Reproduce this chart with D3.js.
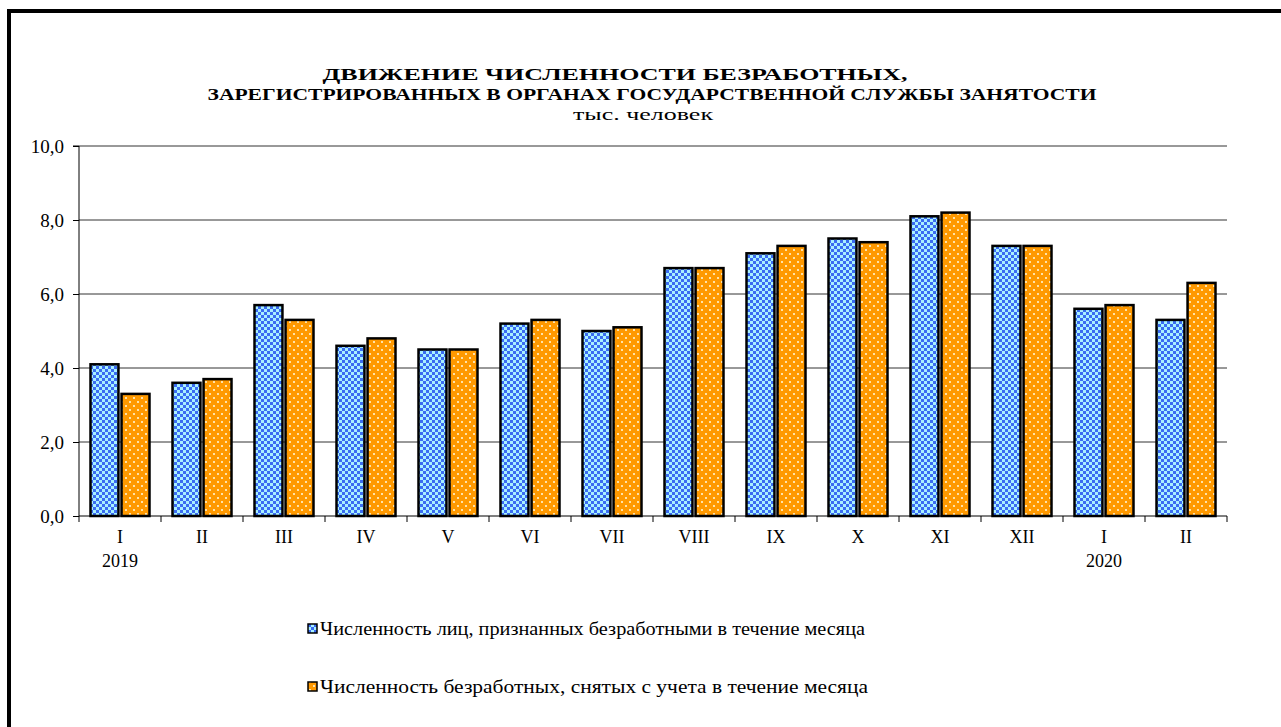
<!DOCTYPE html>
<html>
<head>
<meta charset="utf-8">
<script src="https://cdnjs.cloudflare.com/ajax/libs/d3/7.8.5/d3.min.js"></script>
<style>
  body { margin: 0; background: #fff; }
  svg text { font-family: "Liberation Serif", "DejaVu Serif", "Noto Serif", serif !important; }
</style>
</head>
<body>
<svg id="chart" width="1281" height="727"></svg>
<script>
var months = ["I", "II", "III", "IV", "V", "VI", "VII", "VIII", "IX", "X", "XI", "XII", "I", "II"]
var years = ["2019", "", "", "", "", "", "", "", "", "", "", "", "2020", ""]
var recognised = [4.1, 3.6, 5.7, 4.6, 4.5, 5.2, 5.0, 6.7, 7.1, 7.5, 8.1, 7.3, 5.6, 5.3]
var removed = [3.3, 3.7, 5.3, 4.8, 4.5, 5.3, 5.1, 6.7, 7.3, 7.4, 8.2, 7.3, 5.7, 6.3]
var yTicks = [0, 2, 4, 6, 8, 10]
var seriesNames = ["Численность лиц, признанных безработными в течение месяца",
                   "Численность безработных, снятых с учета в течение месяца"]

var dimensions = {
    width: 1281,
    height: 727,
    margin: { top: 146, bottom: 211, left: 79, right: 54 }
}

var svg = d3.select("#chart")

// patterns
var defs = svg.append("defs")
var pBlue = defs.append("pattern")
    .attr("id", "pBlue").attr("patternUnits", "userSpaceOnUse")
    .attr("width", 6).attr("height", 6)
pBlue.append("rect").attr("width", 6).attr("height", 6).attr("fill", "#a8f0ff")
pBlue.append("rect").attr("width", 3).attr("height", 3).attr("fill", "#3a6cf2")
pBlue.append("rect").attr("x", 3).attr("y", 3).attr("width", 3).attr("height", 3).attr("fill", "#3a6cf2")

var pOrange = defs.append("pattern")
    .attr("id", "pOrange").attr("patternUnits", "userSpaceOnUse")
    .attr("width", 8).attr("height", 8)
pOrange.append("rect").attr("width", 8).attr("height", 8).attr("fill", "#ff9900")
pOrange.append("rect").attr("x", 1).attr("y", 1).attr("width", 2).attr("height", 2).attr("fill", "#ffe2a8")
pOrange.append("rect").attr("x", 5).attr("y", 5).attr("width", 2).attr("height", 2).attr("fill", "#ffe2a8")

var fills = ["url(#pBlue)", "url(#pOrange)"]

// outer frame
svg.append("rect")
    .attr("x", 9).attr("y", 11)
    .attr("width", 1400).attr("height", 900)
    .attr("fill", "none").attr("stroke", "black").attr("stroke-width", 4)

// title (cyrillic falls back to a sans face, so stretch to the original widths)
svg.append("text").attr("x", 615).attr("y", 80).attr("text-anchor", "middle")
    .style("font-size", "16px").style("font-weight", "bold")
    .attr("textLength", 585).attr("lengthAdjust", "spacingAndGlyphs")
    .text("ДВИЖЕНИЕ ЧИСЛЕННОСТИ БЕЗРАБОТНЫХ,")
svg.append("text").attr("x", 652).attr("y", 100).attr("text-anchor", "middle")
    .style("font-size", "16px").style("font-weight", "bold")
    .attr("textLength", 889).attr("lengthAdjust", "spacingAndGlyphs")
    .text("ЗАРЕГИСТРИРОВАННЫХ В ОРГАНАХ ГОСУДАРСТВЕННОЙ СЛУЖБЫ ЗАНЯТОСТИ")
svg.append("text").attr("x", 643).attr("y", 120).attr("text-anchor", "middle")
    .style("font-size", "17px")
    .attr("textLength", 140).attr("lengthAdjust", "spacingAndGlyphs")
    .text("тыс. человек")

var xScale = d3.scaleBand()
    .domain(d3.range(months.length))
    .range([dimensions.margin.left, dimensions.width - dimensions.margin.right])

var subScale = d3.scaleBand()
    .domain([0, 1])
    .range([11.5, xScale.bandwidth() - 11.5])
    .paddingInner(0.1)

var yScale = d3.scaleLinear()
    .domain([0, 10])
    .range([dimensions.height - dimensions.margin.bottom, dimensions.margin.top])

// gridlines
svg.append("g")
    .selectAll("line")
    .data(yTicks.filter(d => d > 0))
    .enter()
    .append("line")
    .attr("x1", dimensions.margin.left)
    .attr("x2", dimensions.width - dimensions.margin.right)
    .attr("y1", d => yScale(d))
    .attr("y2", d => yScale(d))
    .attr("stroke", "#333")
    .attr("stroke-width", 1)

// y axis
var yAxisGen = d3.axisLeft(yScale)
    .tickValues(yTicks)
    .tickSize(6)
    .tickFormat(d => d3.format(".1f")(d).replace(".", ","))

var yAxis = svg.append("g")
    .attr("transform", `translate(${dimensions.margin.left}, 0)`)
    .call(yAxisGen)
yAxis.select(".domain").attr("d", `M-6,${yScale(10)}H0V${yScale(0)}`)
yAxis.selectAll("text").style("font-size", "19px").attr("x", -15).attr("fill", "black")

// bars
var series = [recognised, removed]
series.forEach((vals, s) => {
    svg.append("g")
        .selectAll("rect")
        .data(vals)
        .enter()
        .append("rect")
        .attr("x", (d, i) => xScale(i) + subScale(s))
        .attr("y", d => yScale(d))
        .attr("width", subScale.bandwidth())
        .attr("height", d => yScale(0) - yScale(d))
        .attr("fill", fills[s])
        .attr("stroke", "black")
        .attr("stroke-width", 2.5)
})

// x axis
var xAxis = svg.append("g")
    .attr("transform", `translate(0, ${yScale(0)})`)
xAxis.append("line")
    .attr("x1", dimensions.margin.left)
    .attr("x2", dimensions.width - dimensions.margin.right)
    .attr("stroke", "black")
xAxis.selectAll(".tk")
    .data(d3.range(months.length + 1))
    .enter()
    .append("line")
    .attr("x1", i => dimensions.margin.left + i * xScale.step())
    .attr("x2", i => dimensions.margin.left + i * xScale.step())
    .attr("y1", 0).attr("y2", 6)
    .attr("stroke", "black")
xAxis.selectAll(".mlab")
    .data(months)
    .enter()
    .append("text")
    .attr("x", (d, i) => xScale(i) + xScale.bandwidth() / 2)
    .attr("y", 27)
    .attr("text-anchor", "middle")
    .style("font-size", "18px")
    .text(d => d)
xAxis.selectAll(".ylab")
    .data(years)
    .enter()
    .append("text")
    .attr("x", (d, i) => xScale(i) + xScale.bandwidth() / 2)
    .attr("y", 51)
    .attr("text-anchor", "middle")
    .style("font-size", "18px")
    .text(d => d)

// legend
var legendWidths = [545, 548]
var legend = svg.append("g").attr("transform", "translate(308, 624)")
legend.selectAll("rect")
    .data(seriesNames)
    .enter()
    .append("rect")
    .attr("x", 0)
    .attr("y", (d, i) => i * 58)
    .attr("width", 9)
    .attr("height", 9)
    .attr("fill", (d, i) => fills[i])
    .attr("stroke", "black")
    .attr("stroke-width", 1.5)
legend.selectAll("text")
    .data(seriesNames)
    .enter()
    .append("text")
    .attr("x", 12)
    .attr("y", (d, i) => i * 58 + 11)
    .style("font-size", "18px")
    .attr("textLength", (d, i) => legendWidths[i])
    .attr("lengthAdjust", "spacingAndGlyphs")
    .text(d => d)
</script>
</body>
</html>
